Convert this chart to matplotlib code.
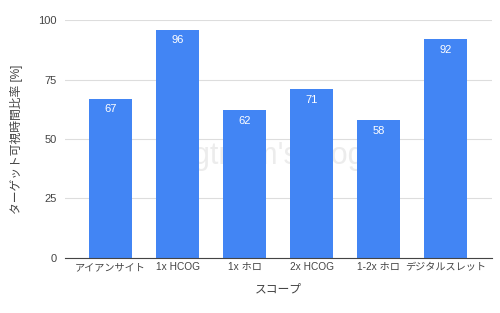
import matplotlib
matplotlib.use("Agg")
import matplotlib.pyplot as plt

plt.rcParams['font.family'] = ['Liberation Sans', 'Noto Sans CJK JP', 'DejaVu Sans']

# data
scopes = ["アイアンサイト", "1x HCOG", "1x ホロ", "2x HCOG", "1-2x ホロ", "デジタルスレット"]
visible_ratio = [67, 96, 62, 71, 58, 92]
yticks = [0, 25, 50, 75, 100]

fig = plt.figure(figsize=(5.0, 3.13), dpi=100)
ax = fig.add_axes([0.13, 0.176, 0.854, 0.76])

x = range(len(scopes))
bars = ax.bar(x, visible_ratio, width=0.64, color="#4285F4", zorder=3)

# value labels inside the top of each bar
for b, v in zip(bars, visible_ratio):
    ax.text(b.get_x() + b.get_width() / 2, v - 2.5, str(v), ha="center", va="top",
            color="white", fontsize=8, zorder=4)

# watermark behind the bars
ax.text(0.5, 0.43, "gtnpm's blog", transform=ax.transAxes, ha="center", va="center",
        fontsize=22, color="#ececec", zorder=1)

ax.set_xlim(-0.68, 5.69)
ax.set_ylim(0, 100)
ax.set_yticks(yticks)
ax.set_xticks(list(x))
ax.set_xticklabels(scopes)
ax.grid(axis="y", color="#dddddd", linewidth=0.8, zorder=0)
for s in ["top", "right", "left"]:
    ax.spines[s].set_visible(False)
ax.spines["bottom"].set_color("#444444")
ax.spines["bottom"].set_zorder(5)
ax.tick_params(axis="both", length=0, colors="#444444")
ax.tick_params(axis="y", pad=6, labelsize=8)
ax.tick_params(axis="x", pad=3, labelsize=7.3)

ax.set_xlabel("スコープ", fontsize=8.5, color="#444444", labelpad=8)
ax.set_ylabel("ターゲット可視時間比率 [%]", fontsize=8.5, color="#444444", labelpad=11)

plt.savefig("out.png", dpi=100)
